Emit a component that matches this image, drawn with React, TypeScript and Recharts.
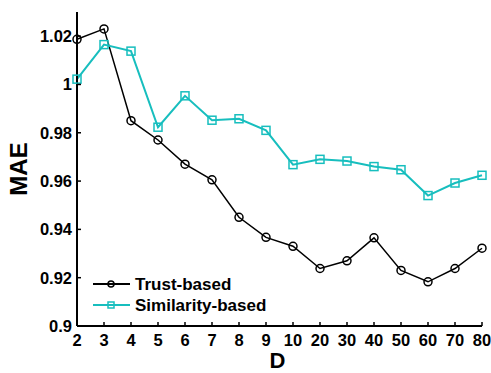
import { LineChart, Line, XAxis, YAxis, Legend } from 'recharts'

const dValues = ['2', '3', '4', '5', '6', '7', '8', '9', '10', '20', '30', '40', '50', '60', '70', '80']
const trustBased = [1.0187, 1.023, 0.985, 0.977, 0.967, 0.9605, 0.945, 0.9367, 0.933, 0.9238, 0.927, 0.9365, 0.923, 0.9183, 0.9238, 0.9322]
const similarityBased = [1.0022, 1.0165, 1.0138, 0.9823, 0.9953, 0.9852, 0.9858, 0.981, 0.9668, 0.969, 0.9683, 0.966, 0.9647, 0.954, 0.9592, 0.9624]
const maeTicks = [0.9, 0.92, 0.94, 0.96, 0.98, 1, 1.02]
const legendOrder = ['trust', 'similarity']

const data = dValues.map((d, i) => ({ d, trust: trustBased[i], similarity: similarityBased[i] }))

const FONT = '"Liberation Sans", Arial, sans-serif'
const BLACK = '#000000'
const CYAN = '#17BEBE'
const TICK_LEN = 4

const tickStyle = { fill: '#000', fontSize: 16.5, fontWeight: 700, fontFamily: FONT }
const legendText = { fill: '#000', fontSize: 17, fontWeight: 700, fontFamily: FONT }
const axisStroke = { stroke: '#000', strokeWidth: 2 }

const fmt = (v: number) => String(Number(v.toFixed(2)))

// ticks point into the plot, labels sit outside
const BottomTick = ({ x, y, payload }: any) => (
  <g>
    <line x1={x} x2={x} y1={y} y2={y - TICK_LEN} stroke="#000" strokeWidth={1.5} />
    <text x={x} y={y + 8} dy="0.71em" textAnchor="middle" style={tickStyle}>{payload.value}</text>
  </g>
)

const TopTick = ({ x, y }: any) => (
  <line x1={x} x2={x} y1={y} y2={y + TICK_LEN} stroke="#000" strokeWidth={1.5} />
)

const LeftTick = ({ x, y, payload }: any) => (
  <g>
    <line x1={x} x2={x + TICK_LEN} y1={y} y2={y} stroke="#000" strokeWidth={1.5} />
    <text x={x - 5} y={y} dy="0.355em" textAnchor="end" style={tickStyle}>{fmt(payload.value)}</text>
  </g>
)

const RightTick = ({ x, y }: any) => (
  <line x1={x} x2={x - TICK_LEN} y1={y} y2={y} stroke="#000" strokeWidth={1.5} />
)

const CircleDot = (props: any) => {
  const { cx, cy, index } = props
  if (cx == null || cy == null) return <g key={index} />
  return <circle key={index} cx={cx} cy={cy} r={4} fill="none" stroke={BLACK} strokeWidth={1.5} />
}

const SquareDot = (props: any) => {
  const { cx, cy, index } = props
  if (cx == null || cy == null) return <g key={index} />
  return <rect key={index} x={cx - 4} y={cy - 4} width={8} height={8} fill="none" stroke={CYAN} strokeWidth={1.5} />
}

const LegendBox = (props: any) => {
  const items = [...(props.payload || [])].sort(
    (a: any, b: any) => legendOrder.indexOf(a.dataKey) - legendOrder.indexOf(b.dataKey)
  )
  return (
    <svg width={180} height={46} style={{ display: 'block' }}>
      {items.map((item: any, i: number) => {
        const y = 12 + i * 21
        const square = item.dataKey === 'similarity'
        return (
          <g key={item.dataKey}>
            <line x1={3} x2={40} y1={y} y2={y} stroke={item.color} strokeWidth={2} />
            {square ? (
              <rect x={18} y={y - 3} width={6} height={6} fill="none" stroke={item.color} strokeWidth={1.5} />
            ) : (
              <circle cx={21} cy={y} r={3} fill="none" stroke={item.color} strokeWidth={1.5} />
            )}
            <text x={45} y={y + 6} style={legendText}>{item.value}</text>
          </g>
        )
      })}
    </svg>
  )
}

export default function App() {
  return (
    <div style={{ position: 'fixed', left: 0, top: 0, width: 491, height: 373, background: '#fff' }}>
      <LineChart width={491} height={373} data={data} margin={{ top: 12, right: 9, left: 0, bottom: 0 }}>
        <XAxis
          dataKey="d"
          type="category"
          height={47}
          tick={BottomTick}
          tickSize={0}
          tickMargin={0}
          tickLine={false}
          axisLine={axisStroke}
          interval={0}
          label={{ value: 'D', position: 'insideBottom', offset: 5, dx: -2, style: { fill: '#000', fontSize: 22, fontWeight: 700, fontFamily: FONT } }}
        />
        <XAxis
          xAxisId="top"
          dataKey="d"
          type="category"
          orientation="top"
          height={0}
          tick={TopTick}
          tickSize={0}
          tickMargin={0}
          tickLine={false}
          axisLine={axisStroke}
          interval={0}
        />
        <YAxis
          type="number"
          width={77}
          domain={[0.9, 1.03]}
          ticks={maeTicks}
          allowDataOverflow
          tick={LeftTick}
          tickSize={0}
          tickMargin={0}
          tickLine={false}
          axisLine={axisStroke}
          label={{ value: 'MAE', angle: -90, position: 'center', dx: -20, style: { fill: '#000', fontSize: 24, fontWeight: 700, fontFamily: FONT } }}
        />
        <YAxis
          yAxisId="right"
          type="number"
          orientation="right"
          width={0}
          domain={[0.9, 1.03]}
          ticks={maeTicks}
          allowDataOverflow
          tick={RightTick}
          tickSize={0}
          tickMargin={0}
          tickLine={false}
          axisLine={axisStroke}
        />
        <Legend
          layout="vertical"
          align="center"
          verticalAlign="middle"
          wrapperStyle={{ left: 90, top: 272, width: 'auto' }}
          content={LegendBox}
        />
        <Line
          dataKey="trust"
          name="Trust-based"
          stroke={BLACK}
          strokeWidth={1.5}
          dot={CircleDot}
          isAnimationActive={false}
        />
        <Line
          dataKey="similarity"
          name="Similarity-based"
          stroke={CYAN}
          strokeWidth={2}
          dot={SquareDot}
          isAnimationActive={false}
        />
      </LineChart>
    </div>
  )
}
